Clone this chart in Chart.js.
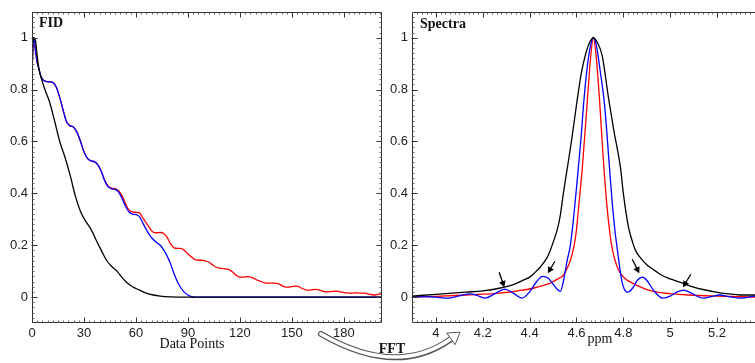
<!DOCTYPE html>
<html><head><meta charset="utf-8">
<script src="https://cdn.jsdelivr.net/npm/chart.js@4/dist/chart.umd.min.js"></script>
<style>
html,body{margin:0;padding:0;background:#fff;overflow:hidden;}
#wrap{position:relative;width:755px;height:363px;}
#wrap canvas{position:absolute;left:0;top:0;}
</style></head><body>
<div id="wrap"><canvas id="fid" width="755" height="363"></canvas><canvas id="spec" width="755" height="363"></canvas></div>
<script>
// ---------- tick labels ----------
const fidTicks = [0, 30, 60, 90, 120, 150, 180];
const ampTicks = [0, 0.2, 0.4, 0.6, 0.8, 1];
const ppmTicks = [4, 4.2, 4.4, 4.6, 4.8, 5, 5.2];

// ---------- FID panel (data point, amplitude) ----------
const fidBlack = [[0,0.88],[0.5,0.98],[1,1.0],[2,0.99],[3,0.93],[4,0.88],[6,0.83],[8,0.79],[10,0.755],[13,0.68],[16,0.60],[19,0.54],[22,0.47],[25,0.39],[28,0.33],[31,0.292],[34,0.262],[37,0.22],[40,0.18],[43,0.142],[46,0.118],[49,0.10],[52,0.075],[55,0.054],[58,0.04],[62,0.027],[66,0.015],[70,0.008],[74,0.004],[80,0.001],[90,0],[100,0],[202,0]];
const fidBlue = [[0,0.877],[1,1.0],[2,0.95],[3,0.905],[4,0.88],[5,0.855],[6,0.84],[8,0.832],[10,0.83],[12,0.828],[14,0.81],[16,0.77],[18,0.72],[20,0.675],[22,0.66],[24,0.655],[26,0.635],[28,0.60],[30,0.56],[32,0.535],[34,0.525],[36,0.522],[38,0.51],[40,0.485],[42,0.448],[44,0.425],[46,0.417],[48,0.415],[50,0.405],[52,0.38],[54,0.35],[56,0.328],[58,0.32],[60,0.318],[62,0.31],[64,0.285],[66,0.26],[68,0.238],[70,0.222],[72,0.21],[74,0.2],[76,0.182],[78,0.158],[80,0.128],[82,0.09],[84,0.058],[86,0.035],[88,0.018],[90,0.008],[92,0.002],[94,0],[100,0],[202,0]];
const fidRed = [[0,0.877],[1,1.0],[2,0.95],[3,0.905],[4,0.88],[5,0.855],[6,0.84],[8,0.832],[10,0.83],[12,0.828],[14,0.81],[16,0.77],[18,0.72],[20,0.675],[22,0.66],[24,0.655],[26,0.635],[28,0.60],[30,0.56],[32,0.535],[34,0.525],[36,0.522],[38,0.51],[40,0.485],[42,0.45],[44,0.428],[46,0.42],[48,0.418],[50,0.41],[52,0.39],[54,0.36],[56,0.335],[58,0.328],[60,0.327],[62,0.325],[64,0.305],[66,0.285],[68,0.265],[70,0.25],[72,0.248],[74,0.249],[76,0.245],[78,0.23],[80,0.205],[82,0.19],[84,0.188],[86,0.188],[88,0.18],[90,0.166],[92,0.155],[94,0.145],[96,0.142],[98,0.142],[100,0.14],[102,0.135],[104,0.125],[106,0.116],[108,0.112],[110,0.11],[112,0.108],[114,0.105],[116,0.095],[118,0.083],[120,0.077],[122,0.077],[124,0.079],[126,0.078],[128,0.072],[130,0.065],[132,0.06],[134,0.056],[136,0.054],[138,0.054],[140,0.054],[142,0.052],[144,0.045],[146,0.039],[148,0.038],[150,0.04],[152,0.042],[154,0.04],[156,0.033],[158,0.028],[160,0.027],[162,0.029],[164,0.03],[166,0.027],[168,0.022],[170,0.02],[172,0.021],[174,0.022],[176,0.023],[178,0.02],[180,0.017],[182,0.016],[184,0.015],[186,0.016],[188,0.016],[190,0.015],[192,0.015],[194,0.012],[196,0.009],[198,0.008],[200,0.011],[202,0.012]];

// ---------- Spectra panel (ppm, intensity) ----------
const specBlack = [[3.898,0.004],[4.0,0.01],[4.13,0.019],[4.2,0.024],[4.27,0.034],[4.33,0.048],[4.373,0.065],[4.40,0.077],[4.42,0.092],[4.445,0.115],[4.475,0.153],[4.488,0.18],[4.50,0.21],[4.518,0.26],[4.53,0.31],[4.544,0.40],[4.561,0.498],[4.58,0.61],[4.604,0.766],[4.62,0.86],[4.64,0.94],[4.655,0.98],[4.672,1.0],[4.69,0.98],[4.71,0.93],[4.737,0.766],[4.76,0.64],[4.788,0.498],[4.80,0.40],[4.822,0.27],[4.84,0.21],[4.852,0.18],[4.87,0.155],[4.90,0.125],[4.938,0.10],[4.96,0.086],[5.0,0.07],[5.053,0.054],[5.1,0.038],[5.195,0.019],[5.25,0.012],[5.30,0.008],[5.362,0.008]];
const specBlue = [[3.898,0.0],[3.95,0.002],[4.0,0.0],[4.05,-0.004],[4.10,0.005],[4.146,0.012],[4.18,0.005],[4.21,-0.004],[4.25,0.012],[4.295,0.031],[4.33,0.015],[4.368,-0.004],[4.40,0.02],[4.43,0.06],[4.455,0.08],[4.48,0.073],[4.50,0.05],[4.52,0.028],[4.531,0.022],[4.544,0.06],[4.56,0.14],[4.574,0.20],[4.587,0.30],[4.60,0.42],[4.608,0.498],[4.62,0.62],[4.63,0.74],[4.645,0.88],[4.66,0.97],[4.672,1.0],[4.685,0.97],[4.70,0.88],[4.72,0.74],[4.741,0.498],[4.752,0.37],[4.765,0.25],[4.775,0.18],[4.79,0.08],[4.80,0.04],[4.818,0.019],[4.84,0.035],[4.86,0.065],[4.882,0.077],[4.90,0.065],[4.93,0.025],[4.968,-0.004],[5.0,0.004],[5.03,0.02],[5.058,0.027],[5.09,0.015],[5.14,-0.004],[5.18,0.003],[5.21,0.008],[5.25,0.002],[5.30,-0.004],[5.362,0.004]];
const specRed = [[3.898,0.0],[4.0,0.003],[4.13,0.008],[4.2,0.011],[4.27,0.015],[4.35,0.024],[4.415,0.034],[4.46,0.045],[4.488,0.054],[4.52,0.07],[4.544,0.084],[4.56,0.11],[4.574,0.142],[4.588,0.19],[4.598,0.245],[4.612,0.372],[4.625,0.498],[4.647,0.766],[4.66,0.92],[4.672,1.0],[4.685,0.92],[4.698,0.766],[4.717,0.498],[4.728,0.372],[4.742,0.25],[4.754,0.18],[4.78,0.103],[4.81,0.07],[4.839,0.054],[4.87,0.04],[4.908,0.027],[4.95,0.018],[5.0,0.013],[5.08,0.008],[5.2,0.004],[5.362,0.0]];

// arrows marking side lobes: [fromX, fromY, toX, toY] in data units
const lobeArrows = [[4.27,0.096,4.292,0.038],[4.508,0.138,4.478,0.092],[4.838,0.146,4.868,0.092],[5.088,0.088,5.055,0.038]];

const FONT = '"Liberation Sans", Arial, sans-serif';
const SERIF = '"Liberation Serif", "Times New Roman", serif';

function toPts(a){ return a.map(p => ({x:p[0], y:p[1]})); }
function ds(arr, color){
  return {data: toPts(arr), borderColor: color, borderWidth: 1.3, pointRadius: 0,
          fill: false, cubicInterpolationMode: 'monotone'};
}

function framePlugin(cfg){
  return {
    id: 'frame_' + cfg.name,
    afterDraw(chart){
      const ctx = chart.ctx, a = chart.chartArea, sx = chart.scales.x, sy = chart.scales.y;
      ctx.save();
      ctx.strokeStyle = '#333'; ctx.lineWidth = 1;
      const L = Math.round(a.left)+0.5, R = Math.round(a.right)-0.5, T = Math.round(a.top)+0.5, B = Math.round(a.bottom)-0.5;
      ctx.beginPath();
      ctx.moveTo(L, B); ctx.lineTo(L, T); ctx.lineTo(cfg.right ? R : a.right, T);
      if (cfg.right) ctx.lineTo(R, B);
      ctx.moveTo(L, B); ctx.lineTo(cfg.right ? R : a.right, B);
      ctx.stroke();
      // minor ticks
      ctx.beginPath();
      ctx.strokeStyle = '#666';
      for (let v = sx.min; v <= sx.max + 1e-9; v += cfg.xMinor){
        const k = Math.round(v / cfg.xMinor) * cfg.xMinor;
        const px = Math.round(sx.getPixelForValue(k)) + 0.5;
        if (px <= L || px >= a.right) continue;
        ctx.moveTo(px, B); ctx.lineTo(px, B - 2);
        ctx.moveTo(px, T); ctx.lineTo(px, T + 2);
      }
      for (let v = -0.1; v <= 1.1 + 1e-9; v += 0.02){
        const py = Math.round(sy.getPixelForValue(v)) + 0.5;
        if (py <= T || py >= B) continue;
        ctx.moveTo(L, py); ctx.lineTo(L + 2, py);
        if (cfg.right){ ctx.moveTo(R, py); ctx.lineTo(R - 2, py); }
      }
      ctx.stroke();
      // major ticks
      ctx.beginPath();
      ctx.strokeStyle = '#333';
      cfg.xTicks.forEach(v => {
        const px = Math.round(sx.getPixelForValue(v)) + 0.5;
        ctx.moveTo(px, B); ctx.lineTo(px, B - 5);
        ctx.moveTo(px, T); ctx.lineTo(px, T + 5);
      });
      ampTicks.forEach(v => {
        const py = Math.round(sy.getPixelForValue(v)) + 0.5;
        ctx.moveTo(L - 1, py); ctx.lineTo(L + 5, py);
        if (cfg.right){ ctx.moveTo(R, py); ctx.lineTo(R - 5, py); }
      });
      ctx.stroke();
      // texts
      ctx.fillStyle = '#111';
      ctx.font = 'bold 14px ' + SERIF;
      ctx.textAlign = 'left'; ctx.textBaseline = 'alphabetic';
      ctx.fillText(cfg.title, cfg.titleX, cfg.titleY);
      ctx.font = '14px ' + SERIF;
      ctx.textAlign = 'center';
      ctx.fillText(cfg.xLabel, cfg.xLabelX, cfg.xLabelY);
      if (cfg.extra) cfg.extra(chart, ctx);
      ctx.restore();
    }
  };
}

function drawExtras(chart, ctx){
  const sx = chart.scales.x, sy = chart.scales.y;
  // side lobe arrows
  ctx.strokeStyle = '#000'; ctx.fillStyle = '#000'; ctx.lineWidth = 1.3;
  lobeArrows.forEach(a => {
    const x1 = sx.getPixelForValue(a[0]), y1 = sy.getPixelForValue(a[1]);
    const x2 = sx.getPixelForValue(a[2]), y2 = sy.getPixelForValue(a[3]);
    const ang = Math.atan2(y2 - y1, x2 - x1);
    ctx.beginPath(); ctx.moveTo(x1, y1); ctx.lineTo(x2 - 4*Math.cos(ang), y2 - 4*Math.sin(ang)); ctx.stroke();
    ctx.beginPath();
    ctx.moveTo(x2, y2);
    ctx.lineTo(x2 - 7*Math.cos(ang - 0.5), y2 - 7*Math.sin(ang - 0.5));
    ctx.lineTo(x2 - 7*Math.cos(ang + 0.5), y2 - 7*Math.sin(ang + 0.5));
    ctx.closePath(); ctx.fill();
  });
  // FFT curved hollow arrow
  const P0 = [321, 334], C = [397, 378], P2 = [451, 339];
  ctx.lineCap = 'round';
  ctx.strokeStyle = '#555'; ctx.lineWidth = 6;
  ctx.beginPath(); ctx.moveTo(P0[0], P0[1]); ctx.quadraticCurveTo(C[0], C[1], P2[0], P2[1]); ctx.stroke();
  ctx.strokeStyle = '#fff'; ctx.lineWidth = 3.6;
  ctx.beginPath(); ctx.moveTo(P0[0], P0[1]); ctx.quadraticCurveTo(C[0], C[1], P2[0]+1, P2[1]-1); ctx.stroke();
  let dx = P2[0] - C[0], dy = P2[1] - C[1]; const n = Math.hypot(dx, dy); dx /= n; dy /= n;
  const px = -dy, py = dx;
  ctx.beginPath();
  ctx.moveTo(P2[0] + dx*11, P2[1] + dy*11);
  ctx.lineTo(P2[0] + px*7, P2[1] + py*7);
  ctx.lineTo(P2[0] - px*7, P2[1] - py*7);
  ctx.closePath();
  ctx.fillStyle = '#fff'; ctx.fill();
  ctx.strokeStyle = '#555'; ctx.lineWidth = 1; ctx.stroke();
  ctx.fillStyle = '#111';
  ctx.font = 'bold 14px ' + SERIF; ctx.textAlign = 'center';
  ctx.fillText('FFT', 392, 353);
}

function makeChart(id, sets, xMin, xMax, xTicks, padLeft, padRight, frameCfg){
  return new Chart(document.getElementById(id), {
    type: 'line',
    data: { datasets: sets },
    options: {
      responsive: false, animation: false, devicePixelRatio: 1,
      layout: { padding: { left: padLeft, right: padRight, top: 10, bottom: 0 } },
      plugins: { legend: { display: false }, tooltip: { enabled: false } },
      scales: {
        x: { type: 'linear', min: xMin, max: xMax,
             afterBuildTicks: s => { s.ticks = xTicks.map(v => ({ value: v })); },
             afterFit: s => { s.height = 40; },
             grid: { display: false, drawTicks: false, tickLength: 0 }, border: { display: false },
             ticks: { color: '#222', font: { family: FONT, size: 13 }, padding: 3, maxRotation: 0, autoSkip: false,
                      callback: v => String(v) } },
        y: { type: 'linear', min: -0.1, max: 1.1,
             afterBuildTicks: s => { s.ticks = ampTicks.map(v => ({ value: v })); },
             afterFit: s => { s.width = 32; },
             grid: { display: false, drawTicks: false, tickLength: 0 }, border: { display: false },
             ticks: { color: '#222', font: { family: FONT, size: 13 }, padding: 4, autoSkip: false,
                      callback: v => String(v) } }
      }
    },
    plugins: [framePlugin(frameCfg)]
  });
}

makeChart('fid', [ds(fidBlack, '#000'), ds(fidBlue, '#0000ff'), ds(fidRed, '#ff0000')],
  0, 202, fidTicks, 0, 373,
  { name: 'fid', right: true, xMinor: 3, xTicks: fidTicks, title: 'FID', titleX: 39, titleY: 27,
    xLabel: 'Data Points', xLabelX: 192, xLabelY: 348 });

makeChart('spec', [ds(specBlack, '#000'), ds(specBlue, '#0000ff'), ds(specRed, '#ff0000')],
  3.898, 5.362, ppmTicks, 380, 0,
  { name: 'spec', right: false, xMinor: 0.02, xTicks: ppmTicks, title: 'Spectra', titleX: 420, titleY: 28,
    xLabel: 'ppm', xLabelX: 600, xLabelY: 343, extra: drawExtras });
</script>
</body></html>
